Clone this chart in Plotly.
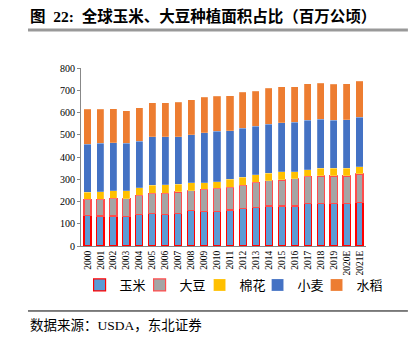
import plotly.graph_objects as go

years = [str(y) for y in range(2000, 2020)] + ["2020E", "2021E"]
# cumulative tops, converted to segments
corn = [138, 135, 135, 134, 141, 145, 143, 147, 161, 156, 156, 162, 170, 174, 180, 180, 180, 192, 192, 192, 192, 197]
soy_top = [210, 210, 215, 213, 228, 237, 236, 243, 249, 254, 260, 264, 273, 287, 293, 297, 302, 314, 315, 315, 315, 324]
cot_top = [242, 243, 249, 248, 261, 273, 275, 278, 284, 284, 288, 300, 309, 321, 327, 333, 333, 342, 350, 350, 350, 356]
wht_top = [458, 462, 464, 462, 470, 492, 492, 492, 500, 510, 515, 518, 530, 538, 548, 553, 556, 565, 569, 565, 568, 578]
ric_top = [615, 615, 617, 608, 622, 643, 644, 646, 658, 668, 674, 676, 691, 695, 709, 715, 715, 730, 731, 728, 730, 740]

soy = [s - c for s, c in zip(soy_top, corn)]
cotton = [a - b for a, b in zip(cot_top, soy_top)]
wheat = [a - b for a, b in zip(wht_top, cot_top)]
rice = [a - b for a, b in zip(ric_top, wht_top)]

names = ["玉米", "大豆", "棉花", "小麦", "水稻"]
series = [corn, soy, cotton, wheat, rice]
fills = ["#5B9BD5", "#A5A5A5", "#FFC000", "#4472C4", "#ED7D31"]
lines = ["#FF0000", "#FF4D4D", "rgba(255,255,255,0.4)", "rgba(255,255,255,0.4)", "rgba(255,255,255,0.4)"]
lw = [1.2, 1.2, 0.5, 0.5, 0.5]
legw = [15, 15, 13, 14, 28]

fig = go.Figure()
for n, s, f, l, w, lgw in zip(names, series, fills, lines, lw, legw):
    fig.add_trace(go.Bar(x=years, y=s, name=n, legendwidth=lgw,
                         marker=dict(color=f, line=dict(color=l, width=w))))

serif = "Liberation Serif, Noto Sans CJK SC"
fig.update_layout(
    barmode="stack", bargap=0.45,
    width=412, height=346,
    margin=dict(l=81, r=46, t=68, b=100),
    plot_bgcolor="white", paper_bgcolor="white",
    font=dict(family=serif, color="#000", size=10),
    showlegend=True,
    legend=dict(orientation="h", x=-0.005, xanchor="left", y=-0.219, yanchor="middle",
                bgcolor="rgba(0,0,0,0)",
                font=dict(size=13, family=serif), itemwidth=30, traceorder="normal"),
    xaxis=dict(tickangle=-90, showline=True, linecolor="#888", ticks="", tickfont=dict(size=9.5, family=serif),
               type="category"),
    yaxis=dict(range=[0, 800], dtick=100, showline=True, linecolor="#888", ticks="outside", ticklen=3,
               tickcolor="#888", showgrid=False, zeroline=False, tickfont=dict(size=10, family=serif)),
)

fig.add_annotation(xref="paper", yref="paper", x=-0.186, y=1.29, xanchor="left", yanchor="middle",
                   text="<b>图  22:  全球玉米、大豆种植面积占比（百万公顷）</b>", showarrow=False,
                   font=dict(size=15.5, family=serif, color="#000"))
fig.add_shape(type="line", xref="paper", yref="paper", x0=-0.186, x1=1.147, y0=1.2135, y1=1.2135,
              line=dict(color="#999", width=3))
fig.add_shape(type="line", xref="paper", yref="paper", x0=-0.186, x1=1.147, y0=-0.365, y1=-0.365,
              line=dict(color="#000", width=1))
fig.add_annotation(xref="paper", yref="paper", x=-0.186, y=-0.444, xanchor="left", yanchor="middle",
                   text="数据来源：USDA，东北证券", showarrow=False,
                   font=dict(size=13.5, family=serif, color="#000"))

fig.write_html("out.html")
